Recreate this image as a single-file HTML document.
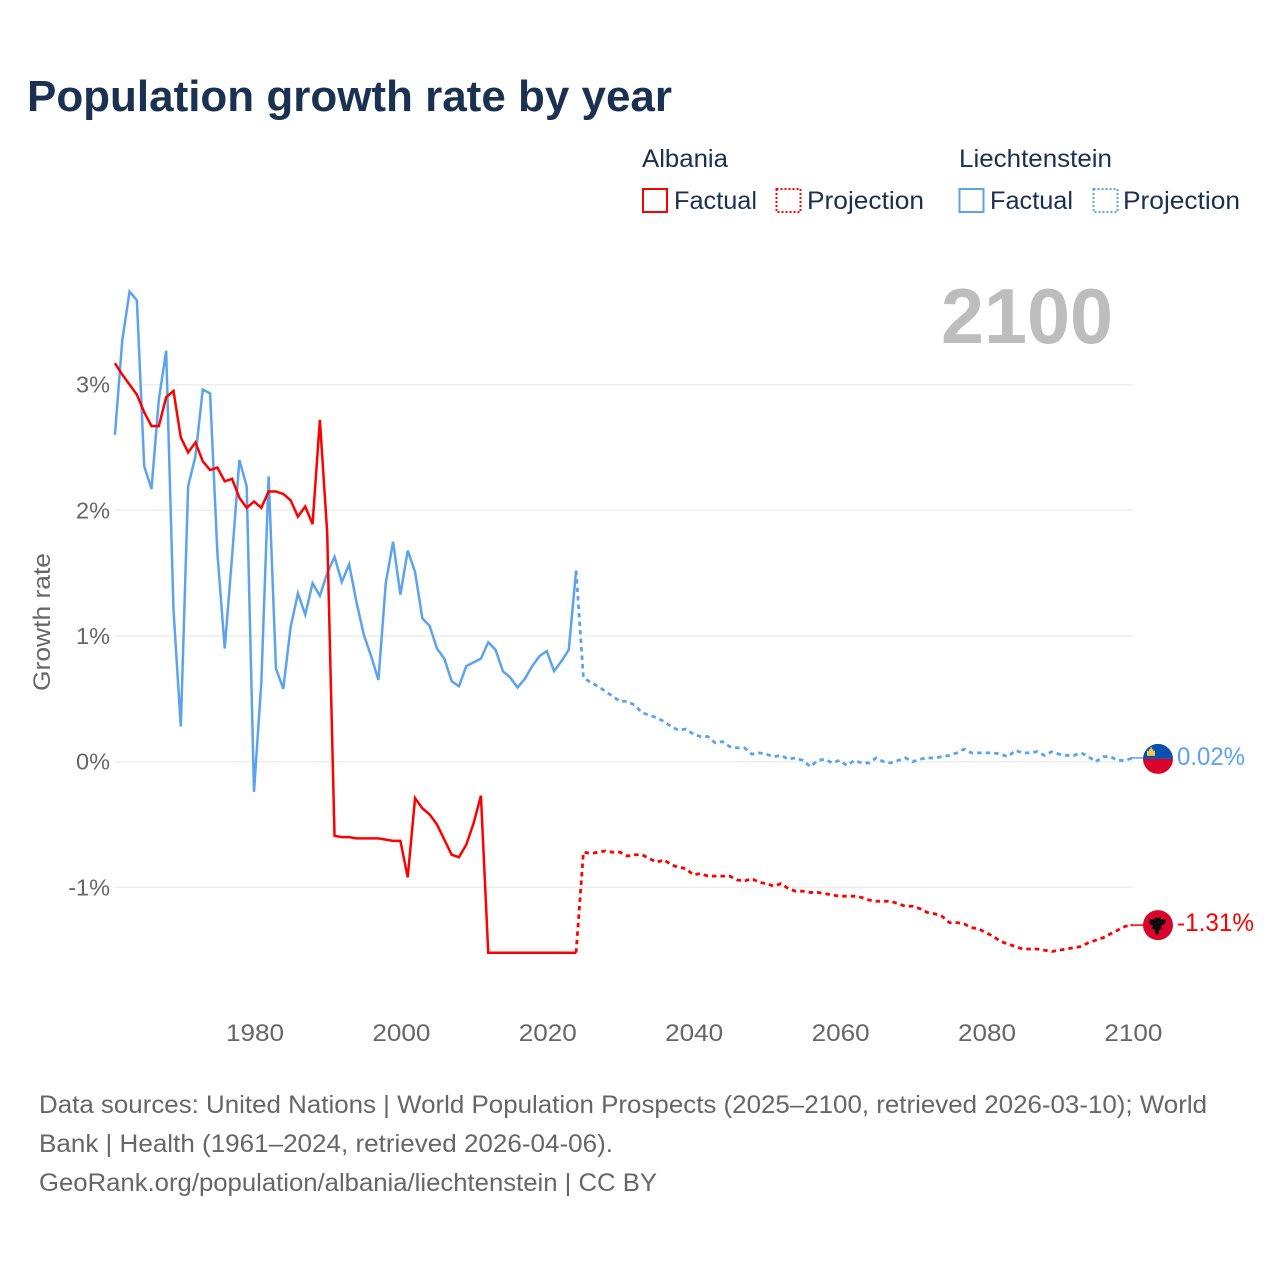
<!DOCTYPE html>
<html lang="en">
<head>
<meta charset="utf-8">
<title>Population growth rate by year</title>
<style>
html,body{margin:0;padding:0;background:#fff;}
svg{display:block;font-family:"Liberation Sans",sans-serif;}
</style>
</head>
<body>
<svg id="chart" xmlns="http://www.w3.org/2000/svg" width="1280" height="1280" viewBox="0 0 1280 1280">
  <rect width="1280" height="1280" fill="#fff"/>
  <text x="27" y="111" font-size="44" font-weight="700" fill="#1a3152" textLength="645" lengthAdjust="spacingAndGlyphs">Population growth rate by year</text>

  <g font-size="25" fill="#1b2f4e">
    <text x="642" y="167" textLength="86" lengthAdjust="spacingAndGlyphs">Albania</text>
    <text x="959" y="167" textLength="153" lengthAdjust="spacingAndGlyphs">Liechtenstein</text>
    <g>
      <rect x="643" y="189" width="24" height="23" fill="none" stroke="#ff0000" stroke-width="2"/>
      <text x="674" y="209" textLength="83" lengthAdjust="spacingAndGlyphs">Factual</text>
    </g>
    <g>
      <rect x="776.500" y="189" width="24" height="23" fill="none" stroke="#ff0000" stroke-width="2" stroke-dasharray="2 2"/>
      <text x="807" y="209" textLength="117" lengthAdjust="spacingAndGlyphs">Projection</text>
    </g>
    <g>
      <rect x="959.500" y="189" width="24" height="23" fill="none" stroke="#5ba3ee" stroke-width="2"/>
      <text x="990" y="209" textLength="83" lengthAdjust="spacingAndGlyphs">Factual</text>
    </g>
    <g>
      <rect x="1093.500" y="189" width="24" height="23" fill="none" stroke="#5ba3ee" stroke-width="2" stroke-dasharray="2 2"/>
      <text x="1123" y="209" textLength="117" lengthAdjust="spacingAndGlyphs">Projection</text>
    </g>
  </g>

  <text x="941" y="343" font-size="78" font-weight="700" fill="#bdbdbd" textLength="172" lengthAdjust="spacingAndGlyphs">2100</text>
  <text transform="translate(50 622) rotate(-90)" text-anchor="middle" font-size="24" fill="#666" textLength="138" lengthAdjust="spacingAndGlyphs">Growth rate</text>

  <g id="grid"></g>
  <g id="yticks"></g>
  <g id="xticks"></g>
  <g id="series"></g>

  <g id="flag-liechtenstein">
    <clipPath id="clip-li"><circle cx="0" cy="0" r="15"/></clipPath>
    <g clip-path="url(#clip-li)">
      <rect x="-15" y="-15" width="30" height="15" fill="#0a50b1"/>
      <rect x="-15" y="0" width="30" height="15" fill="#d8042c"/>
      <path d="M-11-3v-5h2v-1.500h1.500v-2h1.500v2h1.500v1.500h1.500v5z" fill="#f2c94c"/>
    </g>
  </g>
  <g id="flag-albania">
    <circle cx="0" cy="0" r="15" fill="#d8042c"/>
    <path d="M-8.500-6l4.500 .5 2-2.500 2 1 2-1 2 2.500 4.500-.5-2 5-3.500 1.500 1.500 3-3 1-1 3.500-1.500 2.500-1.500-2.500-1-3.500-3-1 1.500-3-3.500-1.500z" fill="#0b0b0b"/>
  </g>
  <text id="label-li" x="1177" font-size="25" fill="#5ba3ee" textLength="68" lengthAdjust="spacingAndGlyphs"></text>
  <text id="label-al" x="1177" font-size="25" fill="#ff0000" textLength="77" lengthAdjust="spacingAndGlyphs"></text>

  <g font-size="25" fill="#666">
    <text x="39" y="1113" textLength="1168" lengthAdjust="spacingAndGlyphs">Data sources: United Nations | World Population Prospects (2025–2100, retrieved 2026-03-10); World</text>
    <text x="39" y="1152" textLength="574" lengthAdjust="spacingAndGlyphs">Bank | Health (1961–2024, retrieved 2026-04-06).</text>
    <text x="39" y="1191" textLength="618" lengthAdjust="spacingAndGlyphs">GeoRank.org/population/albania/liechtenstein | CC BY</text>
  </g>
</svg>
<script>
const factualStartYear = 1961;
const projectionStartYear = 2024;
const xTickLabels = [1980, 2000, 2020, 2040, 2060, 2080, 2100];
const yTickValues = [3, 2, 1, 0, -1];
const endLabelAlbania = "-1.31%";
const endLabelLiechtenstein = "0.02%";

const albaniaFactual = [
  3.17,3.08,3.00,2.92,2.78,2.67,2.67,2.90,2.95,2.58,
  2.46,2.54,2.39,2.32,2.34,2.23,2.25,2.10,2.02,2.07,
  2.02,2.15,2.15,2.13,2.08,1.95,2.03,1.89,2.72,1.82,
  -0.59,-0.60,-0.60,-0.61,-0.61,-0.61,-0.61,-0.62,-0.63,-0.63,
  -0.92,-0.29,-0.37,-0.42,-0.50,-0.62,-0.74,-0.76,-0.66,-0.49,
  -0.27,-1.52,-1.52,-1.52,-1.52,-1.52,-1.52,-1.52,-1.52,-1.52,
  -1.52,-1.52,-1.52,-1.52
];
const albaniaProjection = [
  -1.52,
  -0.72,-0.73,-0.72,-0.71,-0.72,-0.72,-0.75,-0.74,-0.74,-0.77,
  -0.80,-0.78,-0.82,-0.84,-0.85,-0.90,-0.89,-0.91,-0.91,-0.91,
  -0.91,-0.94,-0.95,-0.93,-0.96,-0.97,-0.99,-0.97,-1.01,-1.03,
  -1.03,-1.04,-1.04,-1.05,-1.06,-1.07,-1.07,-1.07,-1.08,-1.10,
  -1.11,-1.11,-1.11,-1.13,-1.15,-1.15,-1.17,-1.20,-1.21,-1.23,
  -1.28,-1.28,-1.29,-1.32,-1.33,-1.36,-1.39,-1.43,-1.45,-1.47,
  -1.49,-1.49,-1.49,-1.50,-1.51,-1.50,-1.49,-1.48,-1.47,-1.44,
  -1.42,-1.40,-1.37,-1.34,-1.31,-1.30
];
const liechtensteinFactual = [
  2.60,3.35,3.74,3.67,2.35,2.17,2.88,3.27,1.21,0.28,
  2.19,2.43,2.96,2.93,1.66,0.90,1.63,2.40,2.19,-0.24,
  0.63,2.27,0.74,0.58,1.07,1.34,1.17,1.42,1.32,1.50,
  1.63,1.43,1.57,1.27,1.01,0.84,0.65,1.42,1.75,1.33,
  1.68,1.51,1.14,1.08,0.90,0.82,0.64,0.60,0.76,0.79,
  0.82,0.95,0.89,0.72,0.67,0.59,0.66,0.76,0.84,0.88,
  0.72,0.80,0.89,1.52
];
const liechtensteinProjection = [
  1.52,
  0.67,0.63,0.60,0.56,0.52,0.48,0.48,0.45,0.39,0.37,
  0.35,0.32,0.28,0.25,0.26,0.22,0.20,0.20,0.15,0.16,
  0.12,0.11,0.11,0.06,0.07,0.06,0.04,0.05,0.02,0.03,
  0.01,-0.04,0.01,0.02,-0.01,0.01,-0.03,0.01,-0.01,-0.01,
  0.03,0.00,-0.01,0.01,0.03,0.00,0.02,0.03,0.03,0.04,
  0.05,0.07,0.10,0.07,0.07,0.07,0.07,0.06,0.04,0.09,
  0.07,0.07,0.08,0.05,0.08,0.06,0.05,0.05,0.07,0.04,
  0.00,0.04,0.04,0.01,0.01,0.03
];

const NS = "http://www.w3.org/2000/svg";
function xScale(year) { return 254 + (year - 1980) * 7.32; }
function yScale(value) { return 761.7 - value * 125.7; }
function pathFrom(startYear, values) {
  return values.map(function (v, i) {
    return (i ? "L" : "M") + xScale(startYear + i).toFixed(2) + " " + yScale(v).toFixed(2);
  }).join("");
}

const gridGroup = document.getElementById("grid");
const yTickGroup = document.getElementById("yticks");
yTickValues.forEach(function (v) {
  const line = document.createElementNS(NS, "line");
  
  
  line.setAttribute("x1", 115);
  line.setAttribute("x2", xScale(2100) + 0.5);
  line.setAttribute("y1", yScale(v));
  line.setAttribute("y2", yScale(v));
  line.setAttribute("stroke", "#eeeeee");
  line.setAttribute("stroke-width", "1.5");
  gridGroup.appendChild(line);

  const label = document.createElementNS(NS, "text");
  
  
  label.setAttribute("x", 110);
  label.setAttribute("y", yScale(v) + 8);
  label.setAttribute("text-anchor", "end");
  label.setAttribute("font-size", "23.500");
  label.setAttribute("fill", "#666");
  label.textContent = v + "%";
  yTickGroup.appendChild(label);
});

const xTickGroup = document.getElementById("xticks");
xTickLabels.forEach(function (year) {
  const label = document.createElementNS(NS, "text");
  
  
  label.setAttribute("x", xScale(year) + 1);
  label.setAttribute("y", 1041);
  label.setAttribute("text-anchor", "middle");
  label.setAttribute("font-size", "24");
  label.setAttribute("fill", "#666");
  label.setAttribute("textLength", "58");
  label.setAttribute("lengthAdjust", "spacingAndGlyphs");
  label.textContent = year;
  xTickGroup.appendChild(label);
});

const seriesGroup = document.getElementById("series");
function addLine(name, startYear, values, color, dashed) {
  const p = document.createElementNS(NS, "path");
  
  
  p.setAttribute("d", pathFrom(startYear, values));
  p.setAttribute("fill", "none");
  p.setAttribute("stroke", color);
  p.setAttribute("stroke-width", dashed ? "2.800" : "2.500");
  p.setAttribute("stroke-linejoin", "miter");
  if (dashed) p.setAttribute("stroke-dasharray", "4.5 4");
  seriesGroup.appendChild(p);
}
addLine("line-liechtenstein-factual", factualStartYear, liechtensteinFactual, "#5ba3ee", false);
addLine("line-albania-factual", factualStartYear, albaniaFactual, "#ff0000", false);
addLine("line-liechtenstein-projection", projectionStartYear, liechtensteinProjection, "#5ba3ee", true);
addLine("line-albania-projection", projectionStartYear, albaniaProjection, "#ff0000", true);

const liEnd = yScale(liechtensteinProjection[liechtensteinProjection.length - 1]);
const alEnd = yScale(albaniaProjection[albaniaProjection.length - 1]);

function addConnector(name, y, color) {
  const c = document.createElementNS(NS, "line");
  
  
  c.setAttribute("x1", xScale(2100) - 2);
  c.setAttribute("x2", 1146);
  c.setAttribute("y1", y);
  c.setAttribute("y2", y);
  c.setAttribute("stroke", color);
  c.setAttribute("stroke-width", "1.500");
  seriesGroup.appendChild(c);
}
addConnector("connector-liechtenstein", liEnd, "#5ba3ee");
addConnector("connector-albania", alEnd, "#ff0000");

document.getElementById("flag-liechtenstein").setAttribute("transform", "translate(1158 " + (liEnd + 1) + ")");
document.getElementById("flag-albania").setAttribute("transform", "translate(1158 " + alEnd + ")");
const labelLi = document.getElementById("label-li");
labelLi.setAttribute("y", liEnd + 7);
labelLi.textContent = endLabelLiechtenstein;
const labelAl = document.getElementById("label-al");
labelAl.setAttribute("y", alEnd + 6);
labelAl.textContent = endLabelAlbania;
</script>
</body>
</html>
